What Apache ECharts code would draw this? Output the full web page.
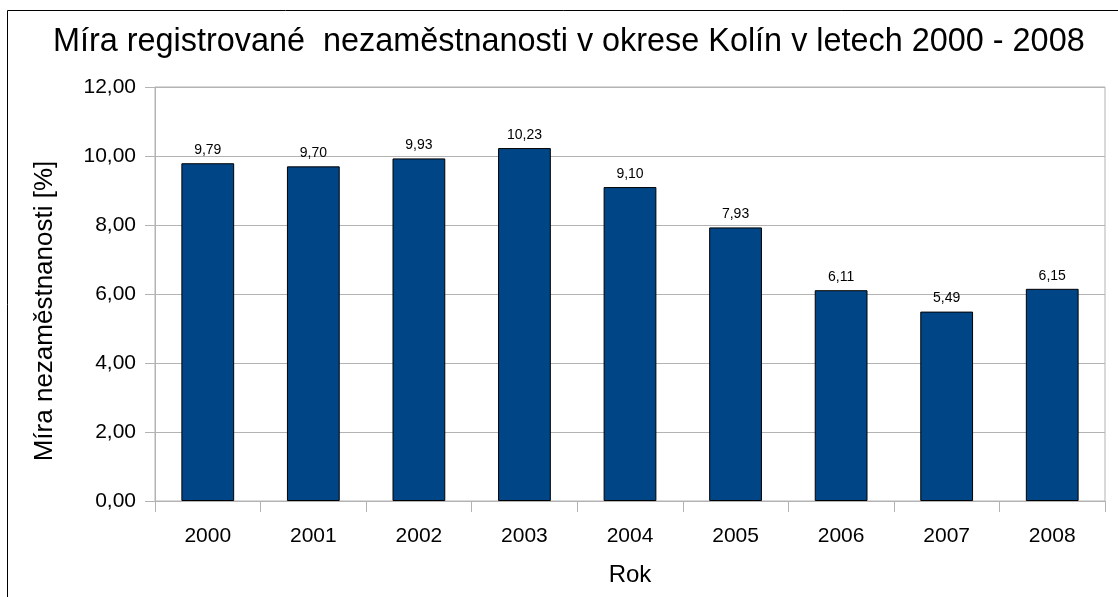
<!DOCTYPE html>
<html>
<head>
<meta charset="utf-8">
<script src="https://cdn.jsdelivr.net/npm/echarts@6/dist/echarts.min.js"></script>
<style>
  html, body { margin: 0; padding: 0; background: #fff; }
  #chart { width: 1118px; height: 597px; }
</style>
</head>
<body>
<div id="chart"></div>
<script>
// roky a míra nezaměstnanosti
const years = ['2000', '2001', '2002', '2003', '2004', '2005', '2006', '2007', '2008'];
const rates = [9.79, 9.70, 9.93, 10.23, 9.10, 7.93, 6.11, 5.49, 6.15];

const fmt = (v) => Number(v).toFixed(2).replace('.', ',');
const FONT = '"Liberation Sans", Arial, sans-serif';

const chart = echarts.init(document.getElementById('chart'));

const option = {
    backgroundColor: '#fff',
    animation: false,
    textStyle: { fontFamily: FONT },
    title: {
        text: 'Míra registrované  nezaměstnanosti v okrese Kolín v letech 2000 - 2008',
        left: 48,
        top: 21,
        textStyle: { fontFamily: FONT, fontSize: 32.4, fontWeight: 'normal', color: '#000' }
    },
    graphic: [
        {
            type: 'polyline',
            shape: { points: [[7.5, 620], [7.5, 10.5], [1130, 10.5]] },
            style: { stroke: '#000', lineWidth: 1, fill: null }
        }
    ],
    grid: {
        left: 155,
        right: 13,
        top: 87,
        bottom: 96,
        show: true,
        borderColor: '#b3b3b3',
        borderWidth: 1
    },
    xAxis: {
        type: 'category',
        data: years,
        name: 'Rok',
        nameLocation: 'middle',
        nameGap: 62,
        nameTextStyle: { fontFamily: FONT, fontSize: 24, color: '#000' },
        axisLine: { lineStyle: { color: '#b3b3b3' } },
        axisTick: { show: true, length: 11, lineStyle: { color: '#b3b3b3' } },
        axisLabel: { fontFamily: FONT, fontSize: 21, color: '#000', margin: 25 }
    },
    yAxis: {
        type: 'value',
        min: 0,
        max: 12,
        interval: 2,
        name: 'Míra nezaměstnanosti [%]',
        nameLocation: 'middle',
        nameGap: 97,
        nameTextStyle: { fontFamily: FONT, fontSize: 26, color: '#000', padding: [0, 34, 0, 0] },
        axisLine: { show: true, lineStyle: { color: '#b3b3b3' } },
        axisTick: { show: true, length: 10, lineStyle: { color: '#b3b3b3' } },
        splitLine: { lineStyle: { color: '#b3b3b3' } },
        axisLabel: { fontFamily: FONT, fontSize: 21, color: '#000', margin: 19, formatter: fmt }
    },
    series: [
        {
            type: 'bar',
            data: rates,
            barWidth: '50%',
            itemStyle: { color: '#004586', borderColor: '#000', borderWidth: 1 },
            label: {
                show: true,
                position: 'top',
                distance: 6,
                fontFamily: FONT,
                fontSize: 14,
                color: '#000',
                formatter: (p) => fmt(p.value)
            }
        }
    ]
};

chart.setOption(option);
</script>
</body>
</html>
